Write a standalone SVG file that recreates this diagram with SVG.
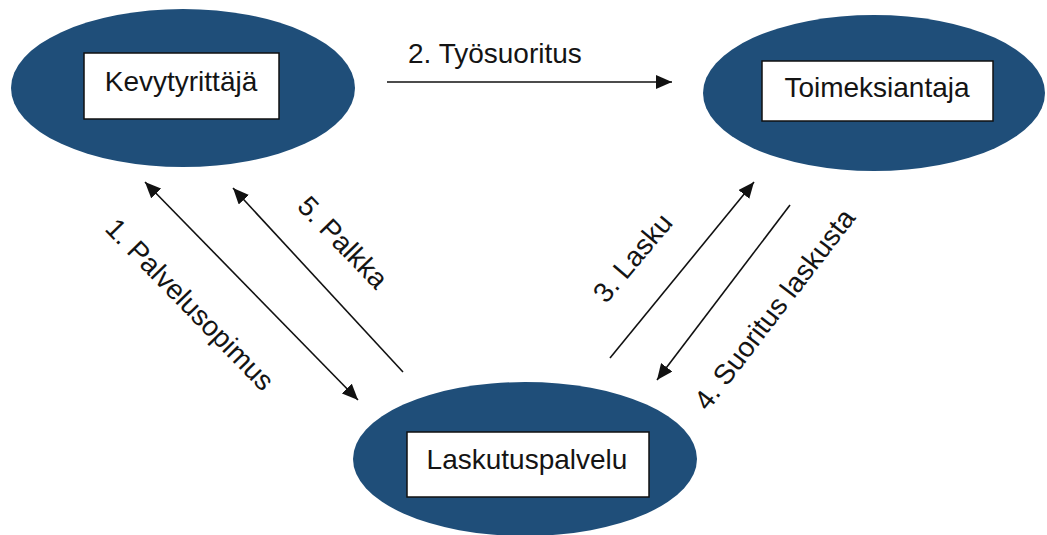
<svg xmlns="http://www.w3.org/2000/svg" width="1047" height="535" viewBox="0 0 1047 535">
<style>
.ell{fill:#1f4e79;}
.box{fill:#ffffff;stroke:#111111;stroke-width:1.5;}
.t{font-family:"Liberation Sans",Arial,sans-serif;font-size:28px;fill:#141414;}
.c{text-anchor:middle;}
.ln{stroke:#111111;stroke-width:1.6;fill:none;}
</style>
<defs>
<marker id="ah" viewBox="0 0 16 14" refX="16" refY="7" markerWidth="16" markerHeight="14" markerUnits="userSpaceOnUse" orient="auto-start-reverse">
<path d="M0,0 L16,7 L0,14 z" fill="#111111"/>
</marker>
</defs>
<g id="kevytyrittaja">
<ellipse class="ell" cx="183" cy="88" rx="172" ry="79"/>
<rect class="box" x="84" y="53" width="195" height="66"/>
<text class="t c" x="181" y="91">Kevytyrittäjä</text>
</g>
<g id="toimeksiantaja">
<ellipse class="ell" cx="874" cy="93" rx="171" ry="78"/>
<rect class="box" x="762" y="61" width="231" height="60"/>
<text class="t c" x="877" y="97">Toimeksiantaja</text>
</g>
<g id="laskutuspalvelu">
<ellipse class="ell" cx="525" cy="459" rx="172" ry="77"/>
<rect class="box" x="407" y="432" width="242" height="65"/>
<text class="t c" x="527" y="469">Laskutuspalvelu</text>
</g>
<g id="connectors">
<line class="ln" x1="387" y1="82" x2="672" y2="82" marker-end="url(#ah)"/>
<line class="ln" x1="145" y1="182" x2="358" y2="400" marker-start="url(#ah)" marker-end="url(#ah)"/>
<line class="ln" x1="403" y1="372" x2="233" y2="188" marker-end="url(#ah)"/>
<line class="ln" x1="610" y1="358" x2="754" y2="182" marker-end="url(#ah)"/>
<line class="ln" x1="790" y1="205" x2="657" y2="380" marker-end="url(#ah)"/>
</g>
<g id="labels">
<text class="t" x="408" y="63">2. Työsuoritus</text>
<text class="t c" transform="translate(183,311) rotate(45.7)">1. Palvelusopimus</text>
<text class="t c" transform="translate(336,249) rotate(46)">5. Palkka</text>
<text class="t c" transform="translate(640,264) rotate(-50)">3. Lasku</text>
<text class="t c" transform="translate(782,315) rotate(-52.5)">4. Suoritus laskusta</text>
</g>
</svg>
